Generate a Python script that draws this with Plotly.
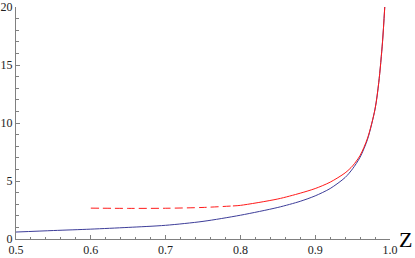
import plotly.graph_objects as go

# Blue curve (z, value)
blue_z = [0.50, 0.55, 0.60, 0.65, 0.70, 0.75, 0.80, 0.85, 0.88, 0.90, 0.92, 0.94, 0.95, 0.96, 0.97, 0.98, 0.985, 0.99, 0.993]
blue_y = [0.60, 0.73, 0.85, 1.00, 1.18, 1.52, 2.05, 2.72, 3.25, 3.72, 4.35, 5.30, 6.05, 7.05, 8.60, 11.2, 13.5, 17.0, 20.0]

# Red curve, dashed part
red_dash_z = [0.60, 0.65, 0.70, 0.75, 0.79]
red_dash_y = [2.66, 2.64, 2.65, 2.72, 2.85]

# Red curve, solid part
red_z = [0.79, 0.80, 0.85, 0.88, 0.90, 0.92, 0.94, 0.95, 0.96, 0.97, 0.98, 0.985, 0.99, 0.993]
red_y = [2.85, 2.90, 3.45, 3.95, 4.35, 4.90, 5.70, 6.30, 7.20, 8.70, 11.2, 13.5, 17.0, 20.0]

x_ticks = [0.5, 0.6, 0.7, 0.8, 0.9, 1.0]
y_ticks = [0, 5, 10, 15, 20]

RED = "#ff1a1a"
BLUE = "#3d3d99"
AX = "#808080"
SERIF = "Liberation Serif"

fig = go.Figure()
fig.add_trace(go.Scatter(x=blue_z, y=blue_y, mode="lines",
                         line=dict(color=BLUE, width=1, shape="spline", smoothing=0.8), showlegend=False))
fig.add_trace(go.Scatter(x=red_dash_z, y=red_dash_y, mode="lines",
                         line=dict(color=RED, width=1, shape="spline", smoothing=0.8, dash="8px,4px"), showlegend=False))
fig.add_trace(go.Scatter(x=red_z, y=red_y, mode="lines",
                         line=dict(color=RED, width=1, shape="spline", smoothing=0.8), showlegend=False))

font = dict(family=SERIF, size=12, color="#222")

fig.update_layout(
    width=415, height=258,
    margin=dict(l=16, r=25, t=7, b=19, autoexpand=False),
    paper_bgcolor="white", plot_bgcolor="white",
    font=font,
    xaxis=dict(range=[0.5, 1.0], tickvals=x_ticks, ticktext=[f"{v:.1f}" for v in x_ticks],
               automargin=False,
               showgrid=False, zeroline=False, showline=True, linecolor=AX, linewidth=1,
               ticks="inside", ticklen=4, tickcolor=AX, tickwidth=1,
               minor=dict(ticks="inside", ticklen=2.5, tickcolor=AX, dtick=0.02, tick0=0.5, showgrid=False),
               tickfont=font),
    yaxis=dict(range=[0, 20], tickvals=y_ticks,
               automargin=False,
               showgrid=False, zeroline=False, showline=True, linecolor=AX, linewidth=1,
               ticks="inside", ticklen=4, tickcolor=AX, tickwidth=1,
               minor=dict(ticks="inside", ticklen=2.5, tickcolor=AX, dtick=1, tick0=0, showgrid=False),
               tickfont=font),
    annotations=[dict(text="Z", xref="paper", yref="paper", x=1.02, y=0.0,
                      xanchor="left", yanchor="middle", showarrow=False,
                      font=dict(family=SERIF, size=22, color="black"))],
)

fig.write_html("out.html", config={"displayModeBar": False},
               post_script="document.body.style.margin='0';")
